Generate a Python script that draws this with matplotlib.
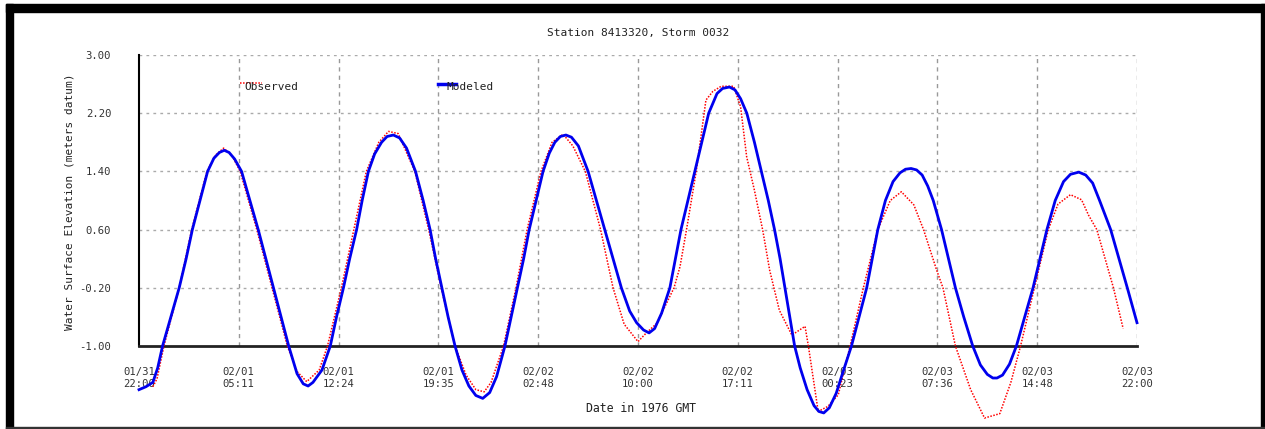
import numpy as np
import matplotlib.pyplot as plt
from matplotlib.patches import Rectangle

# hours since 01/31 22:00 and elevation (m)
model_t = [0.0, 0.5, 1.0, 1.35, 1.7, 2.3, 2.9, 3.4, 3.85, 4.4, 4.95, 5.4, 5.8, 6.15,
           6.5, 6.9, 7.4, 8.0, 8.6, 9.15, 9.7, 10.25, 10.8, 11.4, 11.85, 12.2, 12.55,
           13.2, 13.8, 14.25, 14.75, 15.2, 15.7, 16.1, 16.55, 17.0, 17.5, 17.9, 18.35,
           18.8, 19.3, 19.95, 20.5, 21.0, 21.4, 21.85, 22.3, 22.8, 23.3, 23.8, 24.3,
           24.8, 25.3, 25.8, 26.4, 26.85, 27.3, 27.75, 28.15, 28.65, 29.15, 29.6, 30.0,
           30.4, 30.8, 31.2, 31.7, 32.4, 33.0, 33.6, 34.2, 34.8, 35.4, 35.9, 36.4,
           36.8, 37.2, 37.7, 38.3, 38.7, 39.1, 39.6, 40.1, 40.6, 41.1, 41.7, 42.1,
           42.6, 43.0, 43.4, 43.85, 44.4, 44.9, 45.4, 45.85, 46.25, 46.6, 46.95, 47.3,
           47.7, 48.2, 48.7, 49.05, 49.4, 49.8, 50.3, 50.8, 51.4, 51.95, 52.5, 52.9,
           53.3, 53.85, 54.4, 54.9, 55.3, 55.7, 56.1, 56.5, 56.9, 57.3, 57.9, 58.4,
           58.9, 59.5, 60.15, 60.7, 61.2, 61.6, 61.9, 62.3, 62.8, 63.3, 63.9, 64.5,
           65.0, 65.5, 66.1, 66.7, 67.2, 67.8, 68.3, 68.8, 69.3, 70.1, 70.7, 71.3, 72.0]
model_v = [-1.60, -1.56, -1.50, -1.30, -1.00, -0.60, -0.20, 0.20, 0.60, 1.00, 1.40, 1.58, 1.66, 1.69,
           1.66, 1.57, 1.40, 1.00, 0.60, 0.20, -0.20, -0.60, -1.00, -1.38, -1.52, -1.55, -1.50,
           -1.33, -1.00, -0.60, -0.20, 0.20, 0.60, 1.00, 1.40, 1.64, 1.80, 1.88, 1.90,
           1.86, 1.72, 1.40, 1.00, 0.60, 0.20, -0.20, -0.60, -1.00, -1.33, -1.55, -1.68,
           -1.72, -1.64, -1.42, -1.00, -0.60, -0.20, 0.20, 0.60, 1.00, 1.40, 1.65, 1.80,
           1.88, 1.90, 1.87, 1.75, 1.40, 1.00, 0.60, 0.20, -0.20, -0.52, -0.68, -0.78,
           -0.82, -0.76, -0.55, -0.20, 0.20, 0.60, 1.00, 1.40, 1.80, 2.20, 2.47, 2.54,
           2.56, 2.52, 2.40, 2.20, 1.80, 1.40, 1.00, 0.60, 0.20, -0.20, -0.60, -1.00,
           -1.30, -1.60, -1.82, -1.90, -1.92, -1.85, -1.65, -1.35, -1.00, -0.60, -0.20, 0.20,
           0.60, 1.00, 1.26, 1.38, 1.43, 1.44, 1.42, 1.35, 1.20, 1.00, 0.60, 0.20,
           -0.20, -0.60, -1.00, -1.26, -1.39, -1.44, -1.44, -1.40, -1.25, -1.00, -0.60, -0.20,
           0.20, 0.60, 1.00, 1.26, 1.36, 1.39, 1.35, 1.24, 1.00, 0.60, 0.20, -0.20, -0.68]

obs_t = [1.0, 1.3, 1.8, 2.9, 3.8, 4.9, 5.5, 6.1, 6.7, 7.3, 8.5, 9.6, 10.7, 11.4, 12.1,
         13.0, 13.6, 14.6, 15.5, 16.4, 17.3, 18.0, 18.7, 19.9, 20.9, 21.8, 22.8, 23.6,
         24.3, 24.9, 25.4, 26.3, 27.2, 28.0, 29.0, 29.8, 30.6, 31.3, 32.2, 33.3, 34.2,
         35.0, 36.0, 36.6, 37.35, 38.6, 39.03, 39.5, 40.2, 40.8, 40.9, 41.4, 42.0, 42.9,
         43.4, 43.84, 44.4, 45.0, 45.5, 46.2, 47.1, 48.05, 48.3, 49.0, 49.7, 50.45, 51.3,
         52.26, 53.3, 54.2, 55.0, 55.9, 56.6, 57.55, 58.0, 58.9, 60.0, 61.0, 62.1, 62.9,
         63.6, 64.6, 65.6, 66.3, 67.2, 68.0, 68.5, 69.1, 70.3, 71.0]
obs_v = [-1.56, -1.45, -1.00, -0.20, 0.60, 1.40, 1.62, 1.72, 1.62, 1.40, 0.60, -0.20, -1.00, -1.35, -1.49,
         -1.33, -1.00, -0.20, 0.60, 1.40, 1.80, 1.95, 1.92, 1.40, 0.60, -0.20, -1.00, -1.40,
         -1.60, -1.63, -1.50, -1.00, -0.20, 0.60, 1.40, 1.80, 1.91, 1.75, 1.40, 0.60, -0.20,
         -0.70, -0.94, -0.82, -0.69, -0.20, 0.09, 0.60, 1.40, 2.24, 2.38, 2.50, 2.57, 2.57,
         2.29, 1.60, 1.14, 0.59, 0.04, -0.51, -0.85, -0.73, -1.01, -1.90, -1.83, -1.67, -1.00,
         -0.20, 0.60, 1.00, 1.12, 0.94, 0.60, 0.04, -0.20, -1.00, -1.60, -1.99, -1.93, -1.50,
         -1.00, -0.20, 0.60, 0.95, 1.08, 1.01, 0.80, 0.60, -0.20, -0.76]

tick_hours = [0, 7.2, 14.4, 21.6, 28.8, 36, 43.2, 50.4, 57.6, 64.8, 72]
tick_labels = ["01/31\n22:00", "02/01\n05:11", "02/01\n12:24", "02/01\n19:35",
               "02/02\n02:48", "02/02\n10:00", "02/02\n17:11", "02/03\n00:23",
               "02/03\n07:36", "02/03\n14:48", "02/03\n22:00"]
y_ticks = [-1.0, -0.2, 0.6, 1.4, 2.2, 3.0]

W, H = 1265, 429
plt.rcParams['font.family'] = ['DejaVu Sans Mono']
fig = plt.figure(figsize=(W / 100, H / 100), dpi=100)
fig.patch.set_facecolor('white')

# black frame around the picture
for x0, y0, w, h, c in [(6, 4, 1259, 8, 'black'), (6, 4, 7, 425, 'black'),
                        (1261, 4, 4, 425, 'black'), (6, 427, 1259, 2, '#333333')]:
    fig.patches.append(Rectangle((x0 / W, 1 - (y0 + h) / H), w / W, h / H,
                                 transform=fig.transFigure, color=c, zorder=0))

ax = fig.add_axes([139 / W, 1 - 346 / H, (1137 - 139) / W, (346 - 55) / H])
ax.set_xlim(0, 72)
ax.set_ylim(-1.0, 3.0)

ax.plot(obs_t, obs_v, color='red', lw=1.1, ls=(0, (1, 1)), clip_on=False, zorder=3)
ax.plot(model_t, model_v, color='#0000ee', lw=2.0, clip_on=False, zorder=4)

ax.set_xticks(tick_hours)
ax.set_xticklabels(tick_labels, fontsize=7.6, color='#333333', linespacing=1.25)
ax.set_yticks(y_ticks)
ax.set_yticklabels([f"{v:.2f}" for v in y_ticks], fontsize=7.6, color='#333333')
ax.tick_params(axis='both', length=0)
ax.tick_params(axis='x', pad=15)
ax.tick_params(axis='y', pad=20)

for v in y_ticks[1:]:
    ax.axhline(v, color='#aaaaaa', lw=1, ls=(0, (2, 3)), zorder=1)
for t in tick_hours[1:]:
    ax.axvline(t, color='#999999', lw=1, ls=(0, (3, 3)), zorder=1)

for s in ['top', 'right']:
    ax.spines[s].set_visible(False)
ax.spines['left'].set_linewidth(1.5)
ax.spines['bottom'].set_linewidth(2)
ax.spines['bottom'].set_color('#222222')

# hand-made legend
ax.plot([7.3, 8.9], [2.615, 2.615], color='red', lw=1.1, ls=(0, (1, 1)), zorder=3)
ax.text(7.6, 2.56, "Observed", fontsize=8, color='#222222', va='center')
ax.plot([21.6, 22.9], [2.60, 2.60], color='#0000ee', lw=2.5, zorder=3)
ax.text(22.2, 2.56, "Modeled", fontsize=8, color='#222222', va='center')

fig.text(638 / W, 1 - 33 / H, "Station 8413320, Storm 0032", fontsize=8,
         color='#222222', ha='center', va='center')
fig.text(641 / W, 1 - 408 / H, "Date in 1976 GMT", fontsize=8.3,
         color='#222222', ha='center', va='center')
fig.text(70 / W, 1 - 202 / H, "Water Surface Elevation (meters datum)", fontsize=8,
         color='#222222', ha='center', va='center', rotation=90)

fig.savefig("out.png", dpi=100)
